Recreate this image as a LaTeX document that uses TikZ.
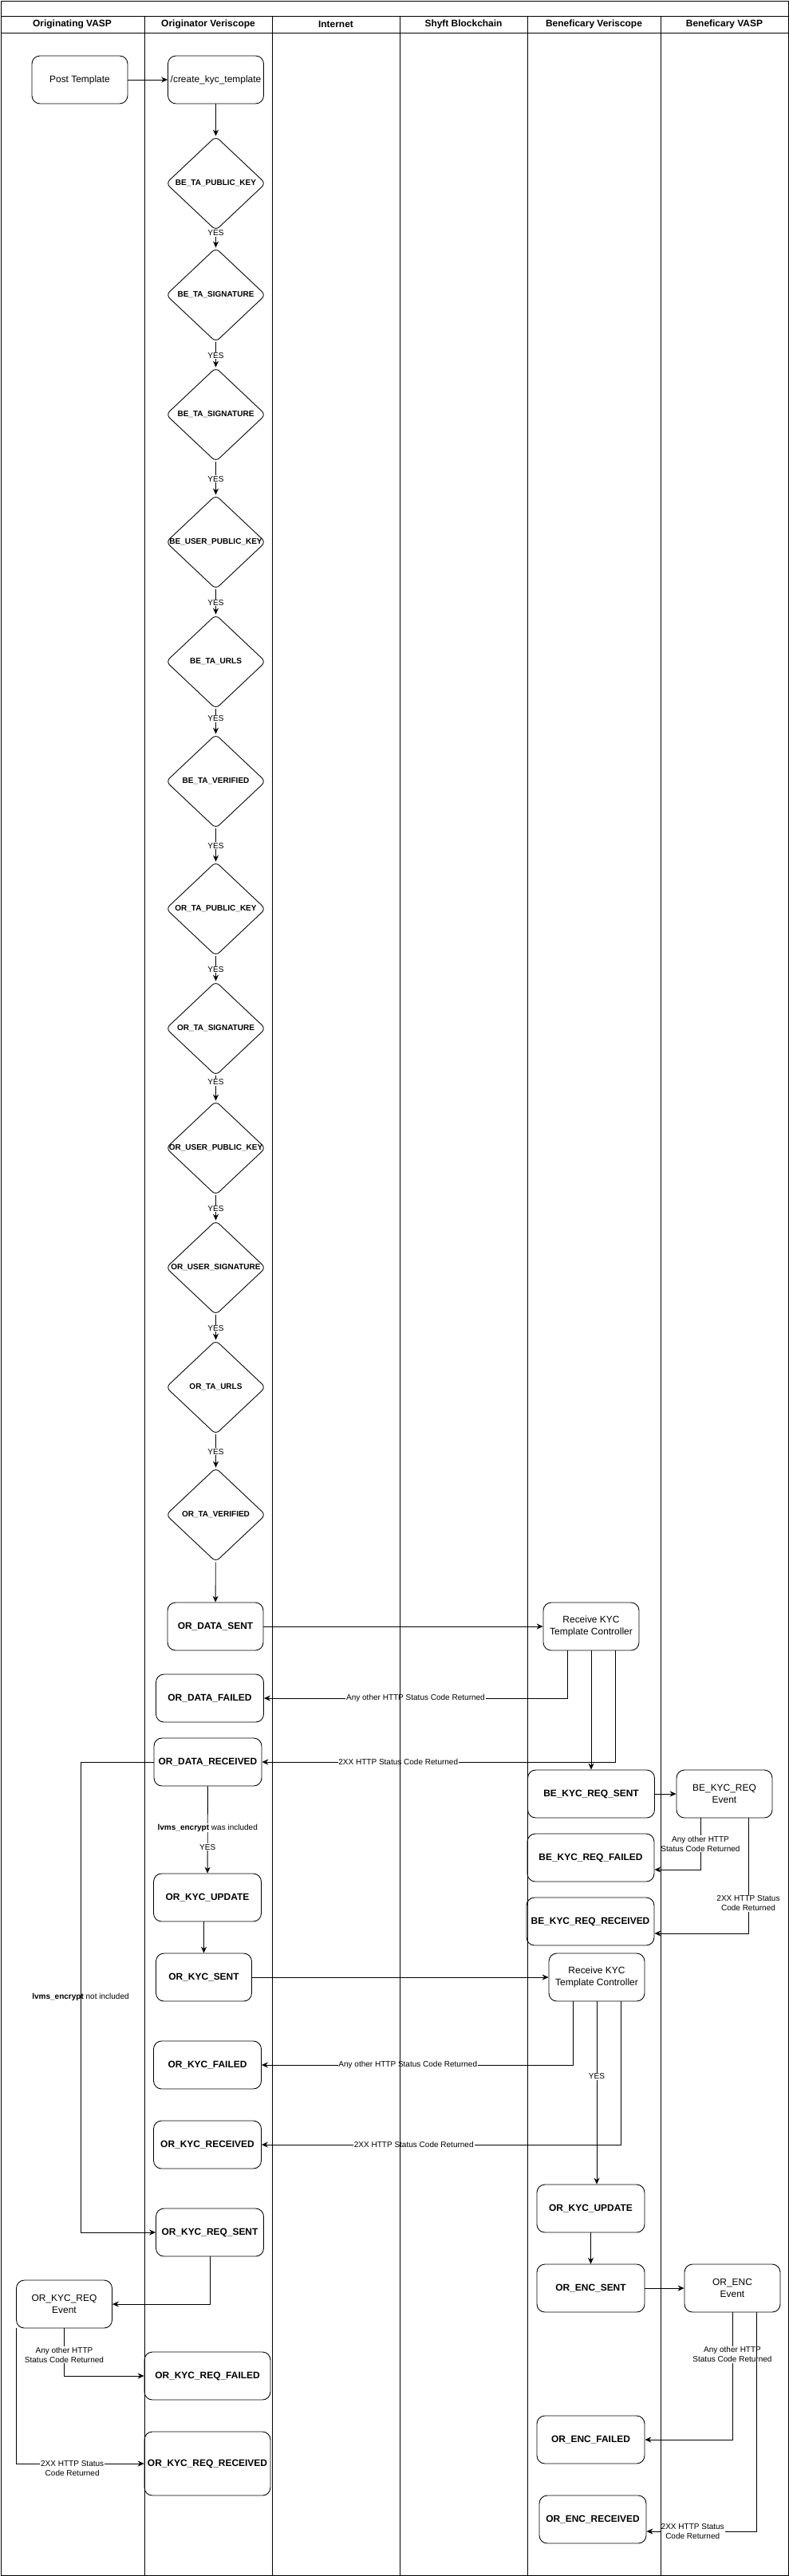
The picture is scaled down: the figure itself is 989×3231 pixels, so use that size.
\documentclass[tikz,border=0pt]{standalone}
\usepackage{fontspec}
\setmainfont{Liberation Sans}
\usepackage{xcolor}
\usepackage{tikz}
\usetikzlibrary{shapes.geometric,arrows.meta}
\definecolor{flowblack}{RGB}{0,0,0}
\newcommand{\boxfont}{\fontsize{6.8}{8.2}\selectfont}
\newcommand{\tinyfont}{\fontsize{5.7}{6.8}\selectfont}

\begin{document}
\begin{tikzpicture}[x=0.02cm, y=-0.02cm, line width=0.5pt,
  statebox/.style={draw=flowblack, rounded corners=0.2cm, minimum width=2.7cm, minimum height=1.2cm, inner sep=0pt, font=\boxfont\bfseries},
  eventbox/.style={draw=flowblack, rounded corners=0.2cm, minimum width=2.4cm, minimum height=1.2cm, inner sep=0pt, align=center, font=\boxfont},
  check/.style={draw=flowblack, diamond, minimum width=2.5cm, minimum height=2.36cm, inner sep=-2pt, rounded corners=0.12cm, font=\tinyfont\bfseries},
  flow/.style={draw=flowblack, -{Stealth[length=4.5pt, width=4pt]}},
  edgetext/.style={font=\tinyfont, fill=white, inner sep=0.5pt, align=center},
  lanehead/.style={font=\boxfont\bfseries}]
\useasboundingbox (0,0) rectangle (989,3231);

\foreach \x/\name [count=\i] in {90.5/Originating VASP, 261/Originator Veriscope, 421/Internet, 581/Shyft Blockchain, 744.5/Beneficary Veriscope, 908/Beneficary VASP}
    \node[lanehead] (head\i) at (\x,30.5) {\name};

\node[eventbox] (post) at (100,100) {Post Template};
\node[eventbox] (create) at (270.5,100) {/create\_kyc\_template};

\foreach \name/\y/\txt in {d1/230/BE\_TA\_PUBLIC\_KEY, d2/370/BE\_TA\_SIGNATURE, d3/520/BE\_TA\_SIGNATURE, d4/680/BE\_USER\_PUBLIC\_KEY, d5/830/BE\_TA\_URLS, d6/980/BE\_TA\_VERIFIED, d7/1140/OR\_TA\_PUBLIC\_KEY, d8/1290/OR\_TA\_SIGNATURE, d9/1440/OR\_USER\_PUBLIC\_KEY, d10/1590/OR\_USER\_SIGNATURE, d11/1740/OR\_TA\_URLS, d12/1900/OR\_TA\_VERIFIED}
    \node[check] (\name) at (270.5,\y) {\txt};

\node[statebox, minimum width=2.4cm] (ordatasent) at (270,2040) {OR\_DATA\_SENT};
\node[eventbox] (recv1) at (741,2040) {Receive KYC\\Template Controller};
\node[statebox] (ordatafailed) at (263,2130) {OR\_DATA\_FAILED};
\node[statebox] (ordatarecv) at (260.5,2210) {OR\_DATA\_RECEIVED};
\node[statebox, minimum width=3.18cm] (bekycsent) at (741,2250) {BE\_KYC\_REQ\_SENT};
\node[eventbox] (bekycevent) at (908,2250) {BE\_KYC\_REQ\\Event};
\node[statebox, minimum width=3.18cm] (bekycfailed) at (740.5,2330) {BE\_KYC\_REQ\_FAILED};
\node[statebox, minimum width=3.2cm] (bekycrecv) at (740,2410) {BE\_KYC\_REQ\_RECEIVED};
\node[statebox] (orkycupdate) at (260,2380) {OR\_KYC\_UPDATE};
\node[statebox, minimum width=2.4cm] (orkycsent) at (255.5,2480) {OR\_KYC\_SENT};
\node[eventbox] (recv2) at (748,2480) {Receive KYC\\Template Controller};
\node[statebox] (orkycfailed) at (260,2590) {OR\_KYC\_FAILED};
\node[statebox] (orkycrecv) at (260,2690) {OR\_KYC\_RECEIVED};
\node[statebox] (beorkycupdate) at (740.5,2770) {OR\_KYC\_UPDATE};
\node[statebox] (orkycreqsent) at (263,2800) {OR\_KYC\_REQ\_SENT};
\node[statebox] (orencsent) at (740.5,2870) {OR\_ENC\_SENT};
\node[eventbox] (orencevent) at (918,2870) {OR\_ENC\\Event};
\node[eventbox] (orkycreqevent) at (80.5,2890) {OR\_KYC\_REQ\\Event};
\node[statebox, minimum width=3.16cm] (orkycreqfailed) at (260,2980) {OR\_KYC\_REQ\_FAILED};
\node[statebox, minimum width=3.16cm, minimum height=1.6cm] (orkycreqrecv) at (260,3090) {OR\_KYC\_REQ\_RECEIVED};
\node[statebox] (orencfailed) at (740.5,3060) {OR\_ENC\_FAILED};
\node[statebox, minimum width=2.68cm] (orencrecv) at (743,3160) {OR\_ENC\_RECEIVED};

\draw[flow] (post) -- (create);
\draw[flow] (create) -- (d1);
\foreach \a/\b/\p in {d1/d2/0.14, d2/d3/0.53, d3/d4/0.52, d4/d5/0.53, d5/d6/0.375, d6/d7/0.52, d7/d8/0.53, d8/d9/0.25, d9/d10/0.53, d10/d11/0.53, d11/d12/0.52}
    \draw[flow] (\a) -- node[edgetext, pos=\p] {YES} (\b);
\draw[flow] (d12) -- (ordatasent);

\draw[flow] (ordatasent) -- (recv1);
\draw[flow] ([xshift=-0.6cm]recv1.south) |- node[edgetext, pos=0.75] {Any other HTTP Status Code Returned} (ordatafailed);
\draw[flow] ([xshift=0.6cm]recv1.south) |- node[edgetext, pos=0.807] {2XX HTTP Status Code Returned} (ordatarecv);
\draw[flow] (recv1) -- (bekycsent);
\draw[flow] (bekycsent) -- (bekycevent);
\draw[flow] ([xshift=-0.6cm]bekycevent.south) |- node[edgetext, pos=0.25] {Any other HTTP\\Status Code Returned} ([yshift=-0.3cm]bekycfailed.east);
\draw[flow] ([xshift=0.6cm]bekycevent.south) |- node[edgetext, pos=0.37] {2XX HTTP Status\\Code Returned} ([yshift=-0.3cm]bekycrecv.east);

\draw[flow] (ordatarecv) -- node[edgetext, pos=0.48] {{\bfseries lvms\_encrypt} was included} node[edgetext, pos=0.7] {YES} (orkycupdate);
\coordinate (encbend) at (101,2210);
\draw[flow] (ordatarecv.west) -- (encbend) |- node[pos=0.25, font=\tinyfont] {{\bfseries lvms\_encrypt} not included} (orkycreqsent.west);
\draw[flow] (orkycupdate.south -| orkycsent.north) -- (orkycsent.north);
\draw[flow] (orkycsent) -- (recv2);
\draw[flow] ([xshift=-0.6cm]recv2.south) |- node[edgetext, pos=0.765] {Any other HTTP Status Code Returned} (orkycfailed);
\draw[flow] (recv2.south) -- node[edgetext, pos=0.41] {YES} (recv2.south |- beorkycupdate.north);
\draw[flow] ([xshift=0.6cm]recv2.south) |- node[edgetext, pos=0.788] {2XX HTTP Status Code Returned} (orkycrecv);
\draw[flow] (beorkycupdate) -- (orencsent);
\draw[flow] (orencsent) -- (orencevent);

\draw[flow] (orkycreqsent.south) |- (orkycreqevent);
\draw[flow] (orkycreqevent.south) |- node[edgetext, pos=0.28] {Any other HTTP\\Status Code Returned} (orkycreqfailed);
\draw[flow] (orkycreqevent.south west) |- node[edgetext, pos=0.72, yshift=-0.12cm] {2XX HTTP Status\\Code Returned} (orkycreqrecv);
\draw[flow] (orencevent.south) |- node[edgetext, pos=0.165] {Any other HTTP\\Status Code Returned} (orencfailed);
\draw[flow] ([xshift=0.6cm]orencevent.south) |- node[edgetext, pos=0.79] {2XX HTTP Status\\Code Returned} ([yshift=-0.3cm]orencrecv.east);

\draw[flowblack] (1,1) rectangle (988,3230);
\draw[flowblack] (1,20) -- (988,20);
\draw[flowblack] (1,41) -- (988,41);
\foreach \x in {181,341,501,661,828}
    \draw[flowblack] (\x,20) -- (\x,3230);
\end{tikzpicture}
\end{document}
